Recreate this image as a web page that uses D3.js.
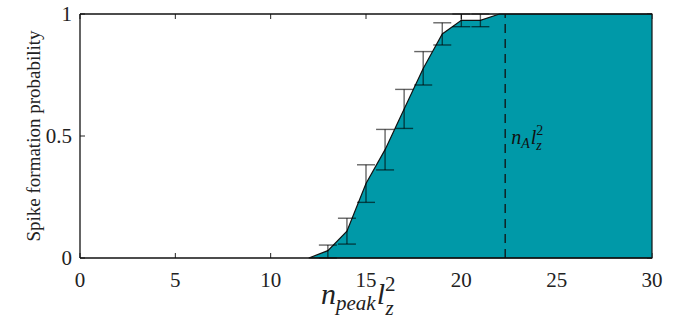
<!DOCTYPE html>
<html>
<head>
<meta charset="utf-8">
<script src="https://cdn.jsdelivr.net/npm/d3@7"></script>
</head>
<body style="margin:0">
<svg id="chart" width="685" height="325" font-family="Liberation Serif"></svg>
<script>
// curve values
const nPeak = [12, 13, 14, 15, 16, 17, 18, 19, 20, 21, 22, 30];
const prob = [0, 0.03, 0.11, 0.305, 0.444, 0.611, 0.777, 0.918, 0.974, 0.974, 1, 1];

// error bars
const errN = [13, 14, 15, 16, 17, 18, 19, 20, 21];
const errLow = [0, 0.057, 0.228, 0.361, 0.531, 0.709, 0.873, 0.948, 0.948];
const errHigh = [0.053, 0.163, 0.382, 0.527, 0.691, 0.846, 0.964, 1.0, 1.0];

const xTicks = [0, 5, 10, 15, 20, 25, 30];
const yTicks = [0, 0.5, 1];
const nA = 22.3;

const svg = d3.select('#chart'),
  margin = {top: 14, left: 80, bottom: 67, right: 33},
  width = +svg.attr('width') - margin.left - margin.right,
  height = +svg.attr('height') - margin.top - margin.bottom;

const x = d3.scaleLinear().domain([0, 30]).range([0, width]);
const y = d3.scaleLinear().domain([0, 1]).range([height, 0]);

const g = svg.append('g')
  .attr('transform', 'translate(' + margin.left + ',' + margin.top + ')');

// inward ticks on all four sides, drawn below the fill
const tickLen = 5;
const ticks = g.append('g').attr('stroke', '#222').attr('stroke-width', 1);
xTicks.forEach(function(t) {
  ticks.append('line').attr('x1', x(t)).attr('x2', x(t)).attr('y1', height).attr('y2', height - tickLen);
  ticks.append('line').attr('x1', x(t)).attr('x2', x(t)).attr('y1', 0).attr('y2', tickLen);
});
yTicks.forEach(function(t) {
  ticks.append('line').attr('x1', 0).attr('x2', tickLen).attr('y1', y(t)).attr('y2', y(t));
  ticks.append('line').attr('x1', width).attr('x2', width - tickLen).attr('y1', y(t)).attr('y2', y(t));
});

// filled area
const pts = nPeak.map(function(d, i) { return [d, prob[i]]; });
g.append('path')
  .datum(pts)
  .attr('fill', '#0099a8')
  .attr('stroke', '#111')
  .attr('stroke-width', 1.2)
  .attr('d', d3.area()
    .x(function(d) { return x(d[0]); })
    .y0(y(0))
    .y1(function(d) { return y(d[1]); }));

// error bars
const eb = g.append('g').attr('stroke', '#000').attr('stroke-opacity', 0.6).attr('stroke-width', 1.4);
errN.forEach(function(n, i) {
  const cx = x(n);
  eb.append('line').attr('x1', cx).attr('x2', cx).attr('y1', y(errLow[i])).attr('y2', y(errHigh[i]));
  eb.append('line').attr('x1', cx - 9).attr('x2', cx + 9).attr('y1', y(errLow[i])).attr('y2', y(errLow[i]));
  eb.append('line').attr('x1', cx - 9).attr('x2', cx + 9).attr('y1', y(errHigh[i])).attr('y2', y(errHigh[i]));
});

// dashed marker line
g.append('line')
  .attr('x1', x(nA)).attr('x2', x(nA))
  .attr('y1', y(0)).attr('y2', y(1))
  .attr('stroke', '#111')
  .attr('stroke-width', 1.3)
  .attr('stroke-dasharray', '9,6');

// box lines
g.append('line').attr('x1', 0).attr('x2', width).attr('y1', 0).attr('y2', 0).attr('stroke', '#111').attr('stroke-width', 1.3);
g.append('line').attr('x1', 0).attr('x2', width).attr('y1', height).attr('y2', height).attr('stroke', '#111').attr('stroke-width', 1.3);
g.append('line').attr('x1', 0).attr('x2', 0).attr('y1', 0).attr('y2', height).attr('stroke', '#111').attr('stroke-width', 1.3);

// tick labels
g.selectAll('.xl').data(xTicks).enter().append('text')
  .attr('x', function(d) { return x(d); })
  .attr('y', height + 29)
  .attr('text-anchor', 'middle')
  .attr('font-family', function() { return 'Liberation Serif'; })
  .attr('font-size', 21)
  .attr('fill', '#222')
  .text(function(d) { return d; });

g.selectAll('.yl').data(yTicks).enter().append('text')
  .attr('x', -8)
  .attr('y', function(d) { return y(d) + 7; })
  .attr('text-anchor', 'end')
  .attr('font-family', function() { return 'Liberation Serif'; })
  .attr('font-size', 21)
  .attr('fill', '#222')
  .text(function(d) { return d; });

// y axis title
svg.append('text')
  .attr('transform', 'translate(40,' + (margin.top + height / 2) + ') rotate(-90)')
  .attr('text-anchor', 'middle')
  .attr('font-family', 'Liberation Serif')
  .attr('font-size', 19)
  .attr('fill', '#222')
  .text('Spike formation probability');

// x axis title: n_peak l_z^2
const xt = svg.append('text')
  .attr('x', margin.left + width / 2 - 45)
  .attr('y', 304)
  .attr('font-family', 'Liberation Serif')
  .attr('font-style', 'italic')
  .attr('font-size', 30)
  .attr('fill', '#222');
xt.append('tspan').text('n');
xt.append('tspan').attr('font-size', 21).attr('dy', 6).text('peak');
xt.append('tspan').attr('dy', -6).attr('dx', 1).text('l');
xt.append('tspan').attr('font-size', 21).attr('font-style', 'normal').attr('dy', -13).text('2');
xt.append('tspan').attr('font-size', 21).attr('dx', -10).attr('dy', 24).text('z');

// annotation: n_A l_z^2
const an = g.append('text')
  .attr('x', x(nA) + 6)
  .attr('y', y(0.5) + 8)
  .attr('font-family', 'Liberation Serif')
  .attr('font-style', 'italic')
  .attr('font-size', 20)
  .attr('fill', '#111');
an.append('tspan').text('n');
an.append('tspan').attr('font-size', 14).attr('dy', 4).text('A');
an.append('tspan').attr('dy', -4).attr('dx', 1).text('l');
an.append('tspan').attr('font-size', 14).attr('font-style', 'normal').attr('dy', -9).text('2');
an.append('tspan').attr('font-size', 14).attr('dx', -7).attr('dy', 15).text('z');
</script>
</body>
</html>
